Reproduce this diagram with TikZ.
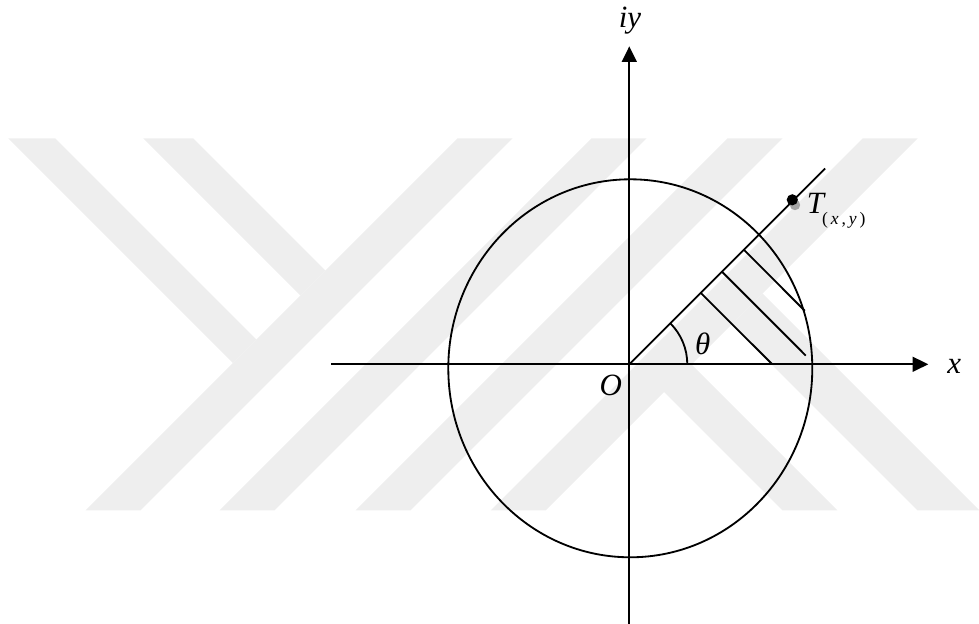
\documentclass[tikz,border=0pt]{standalone}
\usepackage{fontspec}
\setmainfont{Liberation Serif}
\usetikzlibrary{arrows.meta}
\definecolor{wmgray}{gray}{0.935}

\begin{document}
\begin{tikzpicture}[x=0.025cm,y=0.025cm,
    axis/.style={line width=1.35pt,-{Triangle[length=0.39cm,width=0.37cm]}},
    geo/.style={line width=1.3pt},
    lbl/.style={font=\fontsize{22}{26}\selectfont\itshape,inner sep=0pt},
    stripe/.style={fill=wmgray,draw=none},
  ]
  \useasboundingbox (-629.3,-259.7) rectangle (349.7,364.3);

  % watermark
  \begin{scope}
    \clip (-629.3,-145.7) rectangle (349.7,226.3);
    \foreach \a in {-397.6,-263.6,-127.6,7.4}
      \fill[stripe] (\a-146,-146) -- (\a+226,226) -- (\a+281,226) -- (\a-91,-146) -- cycle;
    \fill[stripe] (-621,226) -- (-574,226) -- (-372.8,24.8) -- (-396.3,1.3) -- cycle;
    \fill[stripe] (-486,226) -- (-436,226) -- (-303.8,93.8) -- (-328.8,68.8) -- cycle;
    \fill[stripe] (7.2,-0.2) -- (34.7,27.3) -- (208,-146) -- (153,-146) -- cycle;
    \fill[stripe] (102.2,39.8) -- (133.2,70.8) -- (350,-146) -- (288,-146) -- cycle;
  \end{scope}

  \coordinate (O) at (0,0);
  \coordinate (xl) at (-298,0);
  \coordinate (xr) at (299,0);
  \coordinate (yb) at (0,-262);
  \coordinate (yt) at (0,318);
  \coordinate (ray) at (45:277);
  \coordinate (T) at (163,164.5);

  \draw[axis] (xl) -- (xr);
  \draw[axis] (yb) -- (yt);
  \draw[geo] (1,-4) ellipse [x radius=182, y radius=189];
  \draw[geo] (O) -- (ray);
  \draw[geo] (58,0) arc[start angle=0, end angle=45, radius=58];
  \draw[geo] (45:101) -- (143,0);
  \draw[geo] (45:131) -- (176.5,8.7);
  \draw[geo] (45:162) -- (175.5,53.5);

  \fill[black!35] (165.7,159.3) circle[radius=5.2];
  \fill (T) circle[radius=5.6];

  \node[lbl] (iy)   at (0.7,344)     {iy};
  \node[lbl] (xlab) at (325,-2)      {x};
  \node[lbl] (Olab) at (-18.6,-20.7) {O};
  \node[lbl] (th)   at (73.4,20.3)   {θ};
  \node[lbl,anchor=base west] (Tlab) at (177.4,151)
    {T\kern-1.5pt\raisebox{-7.8pt}{\fontsize{12.5}{14}\selectfont{\upshape(}\,x\,{\upshape,}\,y\,{\upshape)}}};
\end{tikzpicture}
\end{document}
